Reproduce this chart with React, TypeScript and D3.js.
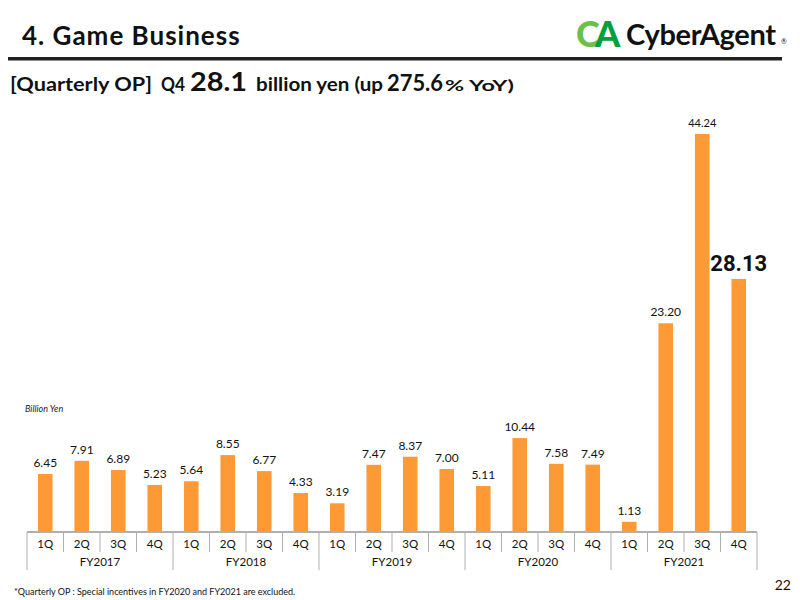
import React from "react";
import * as d3 from "d3";

const fiscalYears = ["FY2017", "FY2018", "FY2019", "FY2020", "FY2021"];
const quarters = ["1Q", "2Q", "3Q", "4Q"];
const opValues = [
  6.45, 7.91, 6.89, 5.23,
  5.64, 8.55, 6.77, 4.33,
  3.19, 7.47, 8.37, 7.0,
  5.11, 10.44, 7.58, 7.49,
  1.13, 23.2, 44.24, 28.13,
];

const W = 800;
const H = 600;
const left = 27;
const right = 757;
const baseY = 532;
const topY = 134;

export default function App() {
  const cats = fiscalYears.flatMap((fy) => quarters.map((q) => `${fy}-${q}`));
  const x = d3.scaleBand<string>().domain(cats).range([left, right]).paddingInner(0.6).paddingOuter(0.3);
  const xStep = (right - left) / cats.length;
  const y = d3.scaleLinear().domain([0, 44.24]).range([baseY, topY]);
  const bw = x.bandwidth();
  const font = "Lato, 'DejaVu Sans', sans-serif";

  const sub: [string, number, number, number][] = [
    ["[Quarterly OP]", 10, 142, 19],
    ["Q4", 161, 24, 19],
    ["28.1", 190, 57, 27],
    ["billion yen (up", 256, 127, 19],
    ["275.6", 387, 56, 23],
    ["% YoY)", 445, 69, 16],
  ];

  return (
    <svg width={W} height={H} style={{ position: "absolute", left: 0, top: 0, background: "#fff" }} fontFamily={font}>
      <rect width={W} height={H} fill="#fff" />
      {/* Header */}
      <text x={22} y={45} fontSize={26} fontWeight={700} fill="#111" letterSpacing={1}>4. Game Business</text>
      <rect x={8} y={57} width={774} height={3.5} fill="#222" />
      {sub.map(([t, sx, len, fs]) => (
        <text key={t} x={sx} y={91} fontSize={fs} fontWeight={700} fill="#111" textLength={len} lengthAdjust="spacingAndGlyphs">
          {t}
        </text>
      ))}
      {/* Logo */}
      <text x={576} y={47} fontSize={36} fontWeight={900} fill="#6cc04a" letterSpacing={-6}>C</text>
      <text x={595} y={47} fontSize={36} fontWeight={900} fill="#00a040">A</text>
      <text x={626} y={45} fontSize={29} fontWeight={700} fill="#111" letterSpacing={-0.3}>CyberAgent</text>
      <text x={781} y={44} fontSize={7} fill="#111">®</text>

      {/* unit */}
      <text x={25} y={412} fontSize={9} fontStyle="italic" fill="#222">Billion Yen</text>

      {/* Bars */}
      {opValues.map((v, i) => {
        const c = cats[i];
        const bx = x(c)!;
        const isLast = i === opValues.length - 1;
        const isPeak = i === opValues.length - 2;
        return (
          <g key={c}>
            <rect x={bx} y={y(v)} width={bw} height={baseY - y(v)} fill="#fd9a35" />
            <text
              x={bx + bw / 2}
              y={y(v) - (isLast ? 8 : 7)}
              textAnchor="middle"
              fontSize={isLast ? 22 : isPeak ? 11 : 12}
              fontWeight={isLast ? 700 : 400}
              fontFamily={isLast ? "Roboto, 'DejaVu Sans', sans-serif" : font}
              fill="#111"
            >
              {v.toFixed(2)}
            </text>
          </g>
        );
      })}

      {/* Axis */}
      <line x1={left} x2={right} y1={baseY} y2={baseY} stroke="#b0b0b0" strokeWidth={2} />
      {cats.map((c, i) => {
        const lx = left + i * xStep;
        const isGroup = i % 4 === 0;
        return (
          <line key={"d" + c} x1={lx} x2={lx} y1={baseY} y2={isGroup ? 570 : 552} stroke="#b0b0b0" strokeWidth={1} />
        );
      })}
      <line x1={right} x2={right} y1={baseY} y2={570} stroke="#b0b0b0" strokeWidth={1} />
      {cats.map((c, i) => (
        <text key={"q" + c} x={left + (i + 0.5) * xStep} y={548} textAnchor="middle" fontSize={11.5} fill="#111">
          {quarters[i % 4]}
        </text>
      ))}
      {fiscalYears.map((fy, j) => (
        <text key={fy} x={left + (j * 4 + 2) * xStep} y={566} textAnchor="middle" fontSize={11.5} fill="#111">
          {fy}
        </text>
      ))}

      {/* Footer */}
      <text x={14} y={595} fontSize={9} fill="#111">*Quarterly OP : Special incentives in FY2020 and FY2021 are excluded.</text>
      <text x={791} y={590} fontSize={14} textAnchor="end" fill="#111">22</text>
    </svg>
  );
}
